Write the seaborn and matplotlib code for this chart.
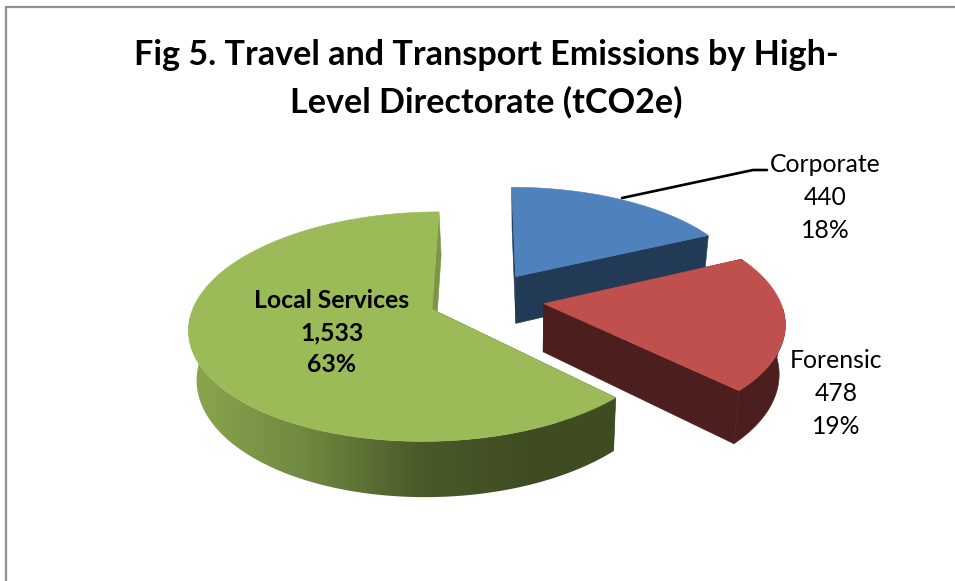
import matplotlib.pyplot as plt
import numpy as np
import seaborn as sns
from matplotlib.patches import Polygon

title_lines = ["Fig 5. Travel and Transport Emissions by High-", "Level Directorate (tCO2e)"]
categories = ["Corporate", "Forensic", "Local Services"]
values = [440, 478, 1533]
percents = ["18%", "19%", "63%"]

# pixel coordinates, the axes cover the whole figure
CX, CY = 485, 299
RX, RY = 236, 109
PERSP = 0.15
EXPLODE = [0.25, 0.25, 0.24]
VANISH_X = 528
DEPTH = 48

TOP_COLORS = ["#4F81BD", "#C0504D", "#9BBB59"]
WALL_COLORS = ["#213A56", "#4C1E1D", "#3F4C22"]
GREEN_WALL = sns.blend_palette(["#88A54E", "#6E8840", "#4A5A29", "#3F4C22"], as_cmap=True)


def top_xy(X, Y):
    w = 1 + PERSP * Y
    return CX + RX * X / w, CY - RY * Y / w


def bottom_xy(x, y):
    return VANISH_X + (x - VANISH_X) * 0.976, y + DEPTH + (y - 300) * 0.055


def slice_outline(i, start, end):
    mid = (start + end) / 2
    X0, Y0 = EXPLODE[i] * np.sin(mid), EXPLODE[i] * np.cos(mid)
    t = np.linspace(start, end, 300)
    apex = top_xy(X0, Y0)
    xs, ys = top_xy(X0 + np.sin(t), Y0 + np.cos(t))
    return apex, xs, ys, t


def cut_wall(ax, p1, p2, color):
    b1, b2 = bottom_xy(*p1), bottom_xy(*p2)
    ax.add_patch(Polygon([p1, p2, b2, b1], closed=True, fc=color, ec=color, lw=0.4))


def draw_slice(ax, i, start, end):
    apex, xs, ys, t = slice_outline(i, start, end)
    # only the front of the rim is seen, the back would cancel out in the fill
    front = np.cos(t) < -0.05
    strip = None
    if front.any():
        bx, by = bottom_xy(xs[front], ys[front])
        strip = np.column_stack([np.r_[xs[front], bx[::-1]], np.r_[ys[front], by[::-1]]])
    if i == 2:
        # side of the big slice fades from light on the left to dark on the right
        grid = np.linspace(170, 640, 470)
        shade = np.clip((grid - 197) / (530 - 197), 0, 1)[None, :]
        patch = Polygon(strip, closed=True, fc="none", ec="none")
        ax.add_patch(patch)
        img = ax.imshow(shade, extent=(170, 640, 520, 200), cmap=GREEN_WALL, vmin=0, vmax=1, aspect="auto")
        img.set_clip_path(patch)
        cut_wall(ax, apex, (xs[0], ys[0]), WALL_COLORS[i])
        cut_wall(ax, apex, (xs[-1], ys[-1]), "#7C9646")
    else:
        if strip is not None:
            ax.add_patch(Polygon(strip, closed=True, fc=WALL_COLORS[i], ec=WALL_COLORS[i], lw=0.4))
        cut_wall(ax, apex, (xs[0], ys[0]), WALL_COLORS[i])
        cut_wall(ax, apex, (xs[-1], ys[-1]), WALL_COLORS[i])
    pts = [apex] + list(zip(xs, ys))
    ax.add_patch(Polygon(pts, closed=True, fc=TOP_COLORS[i], ec=TOP_COLORS[i], lw=0.4))


sns.set_theme(style="white")
plt.rcParams["font.family"] = ["Lato", "DejaVu Sans"]

fig, ax = plt.subplots(figsize=(9.55, 5.81), dpi=100)
ax.set_position([0, 0, 1, 1])
ax.axis("off")

# chart frame, cut off at right and bottom
ax.plot([6, 6, 955], [581, 7, 7], color="#8E8E8E", lw=1.6, solid_joinstyle="miter")

cuts = np.radians(np.concatenate([[0], np.cumsum(values)]) / sum(values) * 360)
for i in [0, 2, 1]:
    draw_slice(ax, i, cuts[i], cuts[i + 1])

ax.plot([622, 753, 767], [198, 170, 170], color="black", lw=1.9)

for line, y in zip(title_lines, [55, 102]):
    ax.text(486, y, line, ha="center", va="center", fontsize=24.6, fontweight="bold", color="black")

label_x = [825, 836, 332]
label_y = [165, 361, 300]
for i, cat in enumerate(categories):
    lines = [cat, f"{values[i]:,}", percents[i]]
    for j, line in enumerate(lines):
        ax.text(
            label_x[i],
            label_y[i] + j * 32.5,
            line,
            ha="center",
            va="center",
            fontsize=17.8,
            color="black",
            fontweight="bold" if i == 2 else "normal",
        )

ax.set_xlim(0, 955)
ax.set_ylim(581, 0)
fig.savefig("out.png", dpi=100)
